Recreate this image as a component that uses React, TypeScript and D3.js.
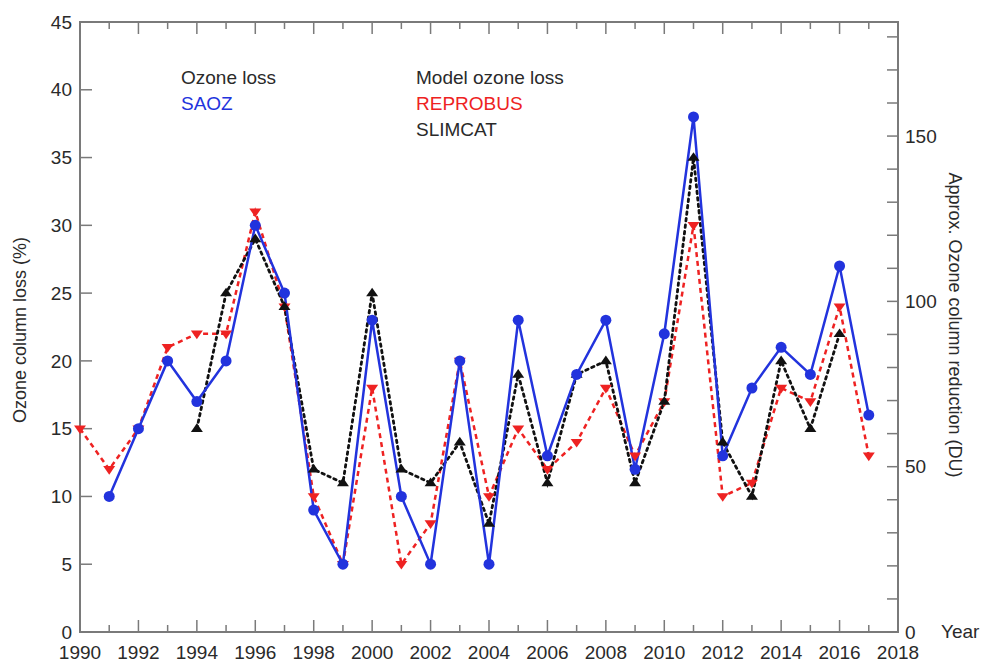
import React from "react";
import * as d3 from "d3";

// values (ozone column loss, %)
const saozYears = [1991, 1992, 1993, 1994, 1995, 1996, 1997, 1998, 1999, 2000, 2001, 2002, 2003, 2004, 2005, 2006, 2007, 2008, 2009, 2010, 2011, 2012, 2013, 2014, 2015, 2016, 2017];
const saozLoss = [10, 15, 20, 17, 20, 30, 25, 9, 5, 23, 10, 5, 20, 5, 23, 13, 19, 23, 12, 22, 38, 13, 18, 21, 19, 27, 16];

const reprobusYears = [1990, 1991, 1992, 1993, 1994, 1995, 1996, 1997, 1998, 1999, 2000, 2001, 2002, 2003, 2004, 2005, 2006, 2007, 2008, 2009, 2010, 2011, 2012, 2013, 2014, 2015, 2016, 2017];
const reprobusLoss = [15, 12, 15, 21, 22, 22, 31, 24, 10, 5, 18, 5, 8, 20, 10, 15, 12, 14, 18, 13, 17, 30, 10, 11, 18, 17, 24, 13];

const slimcatYears = [1994, 1995, 1996, 1997, 1998, 1999, 2000, 2001, 2002, 2003, 2004, 2005, 2006, 2007, 2008, 2009, 2010, 2011, 2012, 2013, 2014, 2015, 2016];
const slimcatLoss = [15, 25, 29, 24, 12, 11, 25, 12, 11, 14, 8, 19, 11, 19, 20, 11, 17, 35, 14, 10, 20, 15, 22];

const yTicks = [0, 5, 10, 15, 20, 25, 30, 35, 40, 45];
const duTicks = [0, 10, 20, 30, 40, 50, 60, 70, 80, 90, 100, 110, 120, 130, 140, 150, 160, 170, 180];
const duLabels = [0, 50, 100, 150];
const yearTicks = [1990, 1991, 1992, 1993, 1994, 1995, 1996, 1997, 1998, 1999, 2000, 2001, 2002, 2003, 2004, 2005, 2006, 2007, 2008, 2009, 2010, 2011, 2012, 2013, 2014, 2015, 2016, 2017, 2018];

const W = 982;
const H = 662;
const left = 80, right = 898, top = 22, bottom = 632;
const font = "'Liberation Sans', Arial, sans-serif";
const axisCol = "#7a7a7a";
const textCol = "#2a2a2a";
const blue = "#2233dd";
const red = "#ee2222";
const black = "#111111";

export default function App() {
  const x = d3.scaleLinear().domain([1990, 2018]).range([left, right]);
  const y = d3.scaleLinear().domain([0, 45]).range([bottom, top]);
  const yDu = d3.scaleLinear().domain([0, 184.5]).range([bottom, top]);

  const line = d3
    .line<[number, number]>()
    .x((d) => x(d[0]))
    .y((d) => y(d[1]));

  const saoz = saozYears.map((yr, i) => [yr, saozLoss[i]] as [number, number]);
  const reprobus = reprobusYears.map((yr, i) => [yr, reprobusLoss[i]] as [number, number]);
  const slimcat = slimcatYears.map((yr, i) => [yr, slimcatLoss[i]] as [number, number]);

  const tri = (cx: number, cy: number, s: number, down: boolean) => {
    const h = s * 0.9;
    return down
      ? `M${cx - s},${cy - h * 0.6}L${cx + s},${cy - h * 0.6}L${cx},${cy + h}Z`
      : `M${cx - s},${cy + h * 0.6}L${cx + s},${cy + h * 0.6}L${cx},${cy - h}Z`;
  };

  return (
    <svg
      width={W}
      height={H}
      style={{ position: "absolute", left: 0, top: 0, background: "#fff" }}
      fontFamily={font}
    >
      {/* frame */}
      <rect x={left} y={top} width={right - left} height={bottom - top} fill="none" stroke={axisCol} strokeWidth={2} />

      {/* year ticks, bottom and top */}
      {yearTicks.map((yr) => {
        const len = yr % 2 === 0 ? 12 : 7;
        return (
          <g key={"yt" + yr}>
            <line x1={x(yr)} x2={x(yr)} y1={bottom} y2={bottom - len} stroke={axisCol} strokeWidth={1.5} />
            <line x1={x(yr)} x2={x(yr)} y1={top} y2={top + len} stroke={axisCol} strokeWidth={1.5} />
          </g>
        );
      })}
      {yearTicks
        .filter((yr) => yr % 2 === 0)
        .map((yr) => (
          <text key={"yl" + yr} x={x(yr)} y={659} textAnchor="middle" fontSize={19} fill={textCol}>
            {yr}
          </text>
        ))}

      {/* left axis */}
      {yTicks.map((t) => (
        <g key={"lt" + t}>
          <line x1={left} x2={left + 12} y1={y(t)} y2={y(t)} stroke={axisCol} strokeWidth={1.5} />
          <text x={72} y={y(t)} dy="0.35em" textAnchor="end" fontSize={19} fill={textCol}>
            {t}
          </text>
        </g>
      ))}

      {/* right axis (DU) */}
      {duTicks.map((t) => (
        <line key={"rt" + t} x1={right} x2={right - 11} y1={yDu(t)} y2={yDu(t)} stroke={axisCol} strokeWidth={1.5} />
      ))}
      {duLabels.map((t) => (
        <text key={"rl" + t} x={905} y={yDu(t)} dy="0.35em" fontSize={19} fill={textCol}>
          {t}
        </text>
      ))}
      <text x={941} y={638} fontSize={19} fill={textCol}>Year</text>

      {/* axis titles */}
      <text
        transform={`translate(26,${330}) rotate(-90)`}
        textAnchor="middle"
        fontSize={18}
        fill={textCol}
      >
        Ozone column loss (%)
      </text>
      <text
        transform={`translate(949,${325}) rotate(90)`}
        textAnchor="middle"
        fontSize={18}
        fill={textCol}
      >
        Approx. Ozone column reduction (DU)
      </text>

      {/* legend */}
      <g fontSize={19}>
        <text x={181} y={84} fill={textCol}>Ozone loss</text>
        <text x={181} y={110} fill={blue}>SAOZ</text>
        <text x={416} y={84} fill={textCol}>Model ozone loss</text>
        <text x={416} y={110} fill={red}>REPROBUS</text>
        <text x={416} y={136} fill={textCol}>SLIMCAT</text>
      </g>

      {/* lines */}
      <path d={line(reprobus) || ""} fill="none" stroke={red} strokeWidth={2.5} strokeDasharray="5,4" />
      <path d={line(slimcat) || ""} fill="none" stroke={black} strokeWidth={2.8} strokeDasharray="2.5,4" strokeLinecap="round" />
      <path d={line(saoz) || ""} fill="none" stroke={blue} strokeWidth={2.5} />

      {/* markers */}
      {reprobus.map((d) => (
        <path key={"rm" + d[0]} d={tri(x(d[0]), y(d[1]), 6, true)} fill={red} />
      ))}
      {slimcat.map((d) => (
        <path key={"sm" + d[0]} d={tri(x(d[0]), y(d[1]), 6, false)} fill={black} />
      ))}
      {saoz.map((d) => (
        <circle key={"bm" + d[0]} cx={x(d[0])} cy={y(d[1])} r={5.5} fill={blue} />
      ))}
    </svg>
  );
}
